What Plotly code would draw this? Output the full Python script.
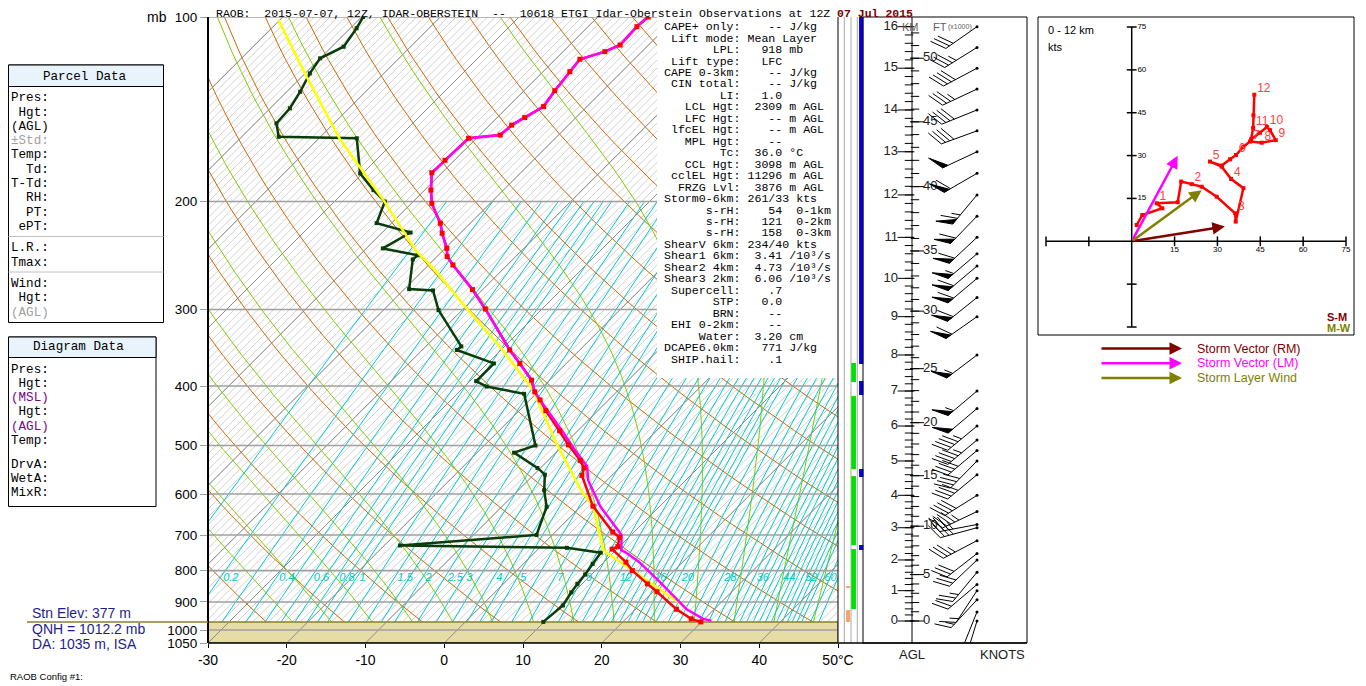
import numpy as np
import plotly.graph_objects as go

# ---------------- sounding ----------------
# temperature (hPa, deg C)
temp_p = [100, 103.7, 111.1, 113.9, 117.2, 122.8, 131.9, 140.0, 145.9, 150.1, 155.8, 157.7,
          171.3, 179.5, 191.6, 201.4, 217.0, 225.3, 238.4, 245.9, 253.8, 278.4, 299.4,
          349.3, 367.4, 391.2, 408.8, 421.4, 438.7, 473.1, 498.8, 528.9, 543.9, 559.5,
          628.0, 692.0, 705.5, 731.0, 738.0, 775.0, 800.0, 841.0, 866.0, 925.0, 959.0, 970.0]
temp_c = [-53.6, -53.8, -53.6, -54.7, -56.9, -56.6, -56.1, -55.5, -56.5, -57.2, -57.4, -61.0,
          -61.2, -61.3, -59.2, -57.4, -53.8, -52.3, -49.8, -48.7, -46.9, -41.3, -37.2,
          -28.9, -25.9, -22.3, -20.4, -18.7, -16.6, -12.3, -9.4, -5.9, -4.5, -3.8,
          1.5, 7.3, 8.8, 9.8, 9.4, 12.8, 14.7, 18.3, 20.5, 25.2, 28.3, 29.9]

# virtual temperature below 420 hPa (above that it sits on the temperature)
virt_p = [421.4, 473.1, 507.0, 540.7, 569.6, 629.0, 679.0, 699.7, 741.0, 747.6, 775.0, 832.0, 925.0, 959.0, 966.0]
virt_c = [-18.7, -12.0, -8.1, -4.3, -2.4, 2.5, 7.1, 8.8, 10.7, 11.6, 14.5, 19.4, 26.5, 29.8, 31.1]

# dew point
dewp_p = [100, 104.3, 111.8, 116.8, 123.6, 132.4, 140.9, 149.1, 156.8, 157.7, 180.0, 191.6, 200.0,
          216.9, 224.7, 238.5, 244.7, 248.6, 277.9, 279.3, 300.7, 344.6, 349.3, 367.4, 392.6,
          400.7, 411.8, 500.0, 513.7, 544.0, 557.9, 591.7, 629.4, 699.7, 728.0, 734.5, 747.8,
          780.0, 812.0, 841.0, 868.0, 912.0, 970.0]
dewp_c = [-89.8, -89.2, -88.5, -90.0, -89.4, -88.3, -87.5, -87.3, -85.3, -75.2, -70.3, -66.5, -63.6,
          -61.9, -56.4, -57.9, -52.6, -52.7, -49.4, -46.2, -43.0, -35.5, -35.6, -29.2, -29.2,
          -27.2, -21.5, -13.5, -15.3, -10.4, -8.6, -6.7, -4.3, -2.0, -18.0, 3.5, 8.4,
          8.8, 9.2, 9.4, 9.7, 10.3, 9.9]

# lifted parcel (mean layer, LPL 918 mb)
parcel_p = [918, 830, 741, 629.4, 589.7, 496.1, 429.6, 405.5, 345.3, 298.5, 256.8, 241.4, 198.8, 175.5, 158.6, 125.1, 101.1]
parcel_c = [26.1, 17.7, 8.4, 1.6, -2.2, -11.1, -18.1, -20.9, -30.5, -39.7, -49.0, -53.2, -64.0, -71.2, -77.1, -89.4, -100.2]

sfc_p = 970.0

# height scale: pressure at each km AGL
km_ticks = list(range(17))
km_p = [966.7, 862.6, 768.7, 681.0, 603.0, 530.0, 464.8, 407.5, 355.9, 308.2, 266.9, 228.8,
        195.1, 165.9, 141.8, 121.2, 103.7]
ft_ticks = list(range(0, 51, 5))

# winds: height km AGL, u/v in knots
wind_h = [0.0, 0.3, 0.7, 1.0, 1.2, 1.6, 2.0, 2.2, 2.6, 3.0, 3.1, 3.5, 4.0, 4.6, 5.0, 5.3, 5.6, 6.0, 6.5, 7.0,
          8.0, 9.0, 9.5, 10.0, 10.3, 10.6, 11.0, 11.5, 12.0, 12.5, 13.0, 13.5, 14.0, 14.5, 15.0, 15.5, 16.0]
wind_u = [1.75, 3.7, 10.7, 8.75, 16.1, 17.3, 21.0, 24.5, 29.75, 36.2, 36.4, 39.1, 34.8, 31.5, 27.4, 31.5, 34.4, 36.5, 39.1, 41.4,
          45.5, 50.4, 48.4, 47.3, 44.9, 41.8, 42.5, 42.6, 42.9, 50.2, 47.1, 37.6, 35.2, 31.7, 37.1, 29.7, 24.6]
wind_v = [5.7, 9.2, 11.55, 13.3, 13.65, 20.9, 20.0, 19.1, 15.6, 9.8, 6.9, 18.6, 21.8, 26.1, 27.9, 26.5, 28.7, 30.2, 33.1, 34.9,
          34.5, 35.4, 38.9, 40.0, 38.0, 35.7, 39.7, 44.1, 51.3, 29.0, 22.0, 13.7, 14.2, 14.8, 19.7, 18.5, 17.2]

# storm vectors (u, v kt): right mover, left mover, 0-6 km mean wind
storm_u = [32.6, 16.1, 24.5]
storm_v = [5.2, 29.9, 17.9]
storm_col = ['#800000', '#ff00ff', '#808000']
storm_names = ['Storm Vector (RM)', 'Storm Vector (LM)', 'Storm Layer Wind']

# layer bars beside the diagram (top, bottom hPa)
blue_layers = [(100, 368.2), (392.5, 413.7), (546.2, 562.9), (726.6, 740.5)]
green_layers = [(366.8, 393.9), (415.3, 546.2), (560.9, 726.6), (737.7, 924.3)]
orange_layers = [(847.6, 854.0), (928.0, 970.3)]

mixr_labels = [0.2, 0.4, 0.6, 0.8, 1, 1.5, 2, 2.5, 3, 4, 5, 7, 9, 12, 16, 20, 28, 36, 44, 52, 60]
mixr_lines = [0.1, 0.2, 0.3, 0.4, 0.5, 0.6, 0.7, 0.8, 0.9, 1, 1.25, 1.5, 1.75, 2, 2.5, 3, 3.5, 4, 4.5, 5, 6, 7, 8, 9,
              10, 11, 12, 13, 14, 15, 16, 17, 18, 19, 20, 22, 24, 26, 28, 30, 32, 34, 36, 38, 40, 42, 44, 46,
              48, 50, 52, 54, 56, 58, 60, 64, 68]
p_ticks = [100, 200, 300, 400, 500, 600, 700, 800, 900, 1000, 1050]

index_lines = [
    "CAPE+ only:    -- J/kg",
    " Lift mode: Mean Layer",
    "       LPL:   918 mb",
    " Lift type:   LFC",
    "CAPE 0-3km:    -- J/kg",
    " CIN total:    -- J/kg",
    "        LI:   1.0",
    "   LCL Hgt:  2309 m AGL",
    "   LFC Hgt:    -- m AGL",
    " lfcEL Hgt:    -- m AGL",
    "   MPL Hgt:    --",
    "        Tc:  36.0 °C",
    "   CCL Hgt:  3098 m AGL",
    " cclEL Hgt: 11296 m AGL",
    "  FRZG Lvl:  3876 m AGL",
    "Storm0-6km: 261/33 kts",
    "      s-rH:    54  0-1km",
    "      s-rH:   121  0-2km",
    "      s-rH:   158  0-3km",
    "ShearV 6km: 234/40 kts",
    "Shear1 6km:  3.41 /10³/s",
    "Shear2 4km:  4.73 /10³/s",
    "Shear3 2km:  6.06 /10³/s",
    " Supercell:    .7",
    "       STP:   0.0",
    "       BRN:    --",
    " EHI 0-2km:    --",
    "     Water:  3.20 cm",
    "DCAPE6.0km:   771 J/kg",
    " SHIP.hail:    .1",
]

W, H = 1366, 686
OFF = 8   # the page puts the figure 8 px in from the top-left corner
SANS = "Liberation Sans, Arial, sans-serif"
MONO = "Liberation Mono, Courier New, monospace"


def fx(px):
    return (px - OFF) / W


def fy(py):
    return 1 - (py - OFF) / H


# skew-T frame in screen pixels
L, R, TOP, BOT = 208, 838, 17, 643
P_TOP, P_BOT = 100.0, 1050.0
T_MIN, T_MAX = -30, 50
px_dec = (BOT - TOP) / np.log10(P_BOT / P_TOP)   # pixels per decade of pressure
px_deg = (R - L) / (T_MAX - T_MIN)               # pixels per deg C
SKEW = px_dec / px_deg                           # gives 45 degree isotherms


def skx(t, p):
    return np.asarray(t, float) + SKEW * np.log10(P_BOT / np.asarray(p, float))


def lines(xs, ys, color, width, xaxis='x', yaxis='y'):
    X, Y = [], []
    for a, b in zip(xs, ys):
        X += list(a) + [None]
        Y += list(b) + [None]
    return go.Scatter(x=X, y=Y, mode='lines', line=dict(color=color, width=width),
                      xaxis=xaxis, yaxis=yaxis, hoverinfo='skip')


def moist_lapse(t, p):
    es = 6.112 * np.exp(17.67 * (t - 273.15) / (t - 29.65))
    rs = 0.622 * es / (p - es)
    return (287.04 * t + 2.501e6 * rs) / (1005.7 + 2.501e6 ** 2 * rs * 0.622 / (287.04 * t * t)) / p


def moist_adiabat(tw):
    ps, ts = [], []
    for p_end in (P_TOP, P_BOT):
        pp = np.linspace(1000, p_end, 200)
        t = tw + 273.15
        tt = [t]
        for p0, p1 in zip(pp[:-1], pp[1:]):
            dp = p1 - p0
            k1 = moist_lapse(t, p0)
            t = t + moist_lapse(t + k1 * dp / 2, p0 + dp / 2) * dp
            tt.append(t)
        ps.append(pp)
        ts.append(np.array(tt) - 273.15)
    return np.concatenate([ps[1][::-1], ps[0][1:]]), np.concatenate([ts[1][::-1], ts[0][1:]])


def mixr_td(w, p):
    e = w * np.asarray(p, float) / (622.0 + w)
    a = np.log(e / 6.112)
    return 243.5 * a / (17.67 - a)


fig = go.Figure()

# background: 1 deg isotherm hatching, dry/moist adiabats, mixing ratio
iso_all = np.arange(-100, 51)
fig.add_trace(lines([skx([t, t], [P_BOT, P_TOP]) for t in iso_all], [[P_BOT, P_TOP]] * len(iso_all), '#c4c4c4', 0.8))

pg = np.logspace(np.log10(P_TOP), np.log10(P_BOT), 60)
thetas = np.arange(200, 501, 10)
fig.add_trace(lines([skx(th * (pg / 1000) ** 0.2857 - 273.15, pg) for th in thetas], [pg] * len(thetas), '#cc6a00', 1))

moist = [moist_adiabat(tw) for tw in range(-20, 46, 5)]
fig.add_trace(lines([skx(t, p) for p, t in moist], [p for p, t in moist], '#80cc00', 1))

pm = np.logspace(np.log10(200), np.log10(P_BOT), 40)
fig.add_trace(lines([skx(mixr_td(w, pm), pm) for w in mixr_lines], [pm] * len(mixr_lines), '#00cccc', 1))

# below-ground area
fig.add_trace(go.Scatter(x=[T_MIN, T_MAX, T_MAX, T_MIN, T_MIN], y=[sfc_p, sfc_p, P_BOT, P_BOT, sfc_p],
                         fill='toself', fillcolor='#e6dca6', mode='lines', line=dict(color='#8c7f2e', width=1.5),
                         hoverinfo='skip'))

iso10 = np.arange(-100, 51, 10)
fig.add_trace(lines([skx([t, t], [P_BOT, P_TOP]) for t in iso10], [[P_BOT, P_TOP]] * len(iso10), '#8a8a8a', 1))
fig.add_trace(lines([[T_MIN, T_MAX]] * len(p_ticks), [[p, p] for p in p_ticks], '#a0a0a0', 1.6))

p_lab = 822
fig.add_trace(go.Scatter(x=skx(mixr_td(np.array(mixr_labels, float), p_lab), p_lab) + 0.4, y=[p_lab] * len(mixr_labels),
                         mode='text', text=['<i>%g</i>' % w for w in mixr_labels], textposition='middle right',
                         textfont=dict(family=SANS, size=11, color='#00c8c8'), hoverinfo='skip'))

# profiles
fig.add_trace(go.Scatter(x=skx(dewp_c, dewp_p), y=dewp_p, mode='lines+markers',
                         line=dict(color='#0a3c0a', width=2.5), marker=dict(symbol='square', size=4, color='#0a3c0a'),
                         hoverinfo='skip'))
fig.add_trace(go.Scatter(x=skx(parcel_c, parcel_p), y=parcel_p, mode='lines',
                         line=dict(color='#ffff00', width=2.5), hoverinfo='skip'))
fig.add_trace(go.Scatter(x=skx(temp_c, temp_p), y=temp_p, mode='lines',
                         line=dict(color='#ff0000', width=2.5), hoverinfo='skip'))
upper = [i for i, p in enumerate(temp_p) if p < virt_p[0]]
mag_p = [temp_p[i] for i in upper] + virt_p
mag_c = [temp_c[i] for i in upper] + virt_c
fig.add_trace(go.Scatter(x=skx(mag_c, mag_p), y=mag_p, mode='lines',
                         line=dict(color='#ff00ff', width=2.5), hoverinfo='skip'))
fig.add_trace(go.Scatter(x=skx(temp_c, temp_p), y=temp_p, mode='markers',
                         marker=dict(symbol='square', size=5, color='#ff0000'), hoverinfo='skip'))

# ---------------- side columns and wind barbs (x2 in pixel units) ----------------
for xc in (844.3, 851, 857.3):
    fig.add_trace(lines([[xc, xc]], [[P_TOP, P_BOT]], '#a8a8a8', 1, xaxis='x2'))
for layers, xc, col, wd in ((green_layers, 853.6, '#00e000', 4.7), (blue_layers, 861.2, '#0000f0', 4.3),
                            (orange_layers, 848.0, '#f4a46c', 4)):
    fig.add_trace(lines([[xc, xc]] * len(layers), [list(l) for l in layers], col, wd, xaxis='x2'))


def h2p(h):
    return 10 ** np.interp(h, km_ticks, np.log10(km_p))


# height axis
fig.add_trace(lines([[912, 912]], [[P_TOP, P_BOT]], 'black', 1, xaxis='x2'))
km_minor = h2p(np.arange(0, 16.01, 0.2))
ft_minor = h2p(np.arange(0, 53) * 0.3048)
for xs, ps, size in ((906, km_p, 12), (909, km_minor, 6), (917, h2p(np.array(ft_ticks) * 0.3048), 10), (915, ft_minor, 6)):
    fig.add_trace(go.Scatter(x=[xs] * len(ps), y=ps, mode='markers', xaxis='x2',
                             marker=dict(symbol='line-ew', size=size, line=dict(color='black', width=1)),
                             hoverinfo='skip'))
fig.add_trace(go.Scatter(x=[898] * len(km_ticks), y=km_p, mode='text', text=[str(k) for k in km_ticks], xaxis='x2',
                         textposition='middle left', textfont=dict(family=SANS, size=13, color='#202020'),
                         hoverinfo='skip', cliponaxis=False))
fig.add_trace(go.Scatter(x=[923] * len(ft_ticks), y=h2p(np.array(ft_ticks) * 0.3048), mode='text',
                         text=[str(k) for k in ft_ticks], xaxis='x2', textposition='middle right',
                         textfont=dict(family=SANS, size=13, color='#202020'), hoverinfo='skip', cliponaxis=False))

# barbs: base at x=977, staff toward the wind source
bx, by, fxs, fys = [], [], [], []
rot = np.radians(-60)
for h, u, v in zip(wind_h, wind_u, wind_v):
    p0 = h2p(h)
    spd = np.hypot(u, v)
    sx, sy = -u / spd, -v / spd
    qx, qy = sx * np.cos(rot) - sy * np.sin(rot), sx * np.sin(rot) + sy * np.cos(rot)

    def pt(d, f=0.0):
        xm, ym = sx * d + qx * f, sy * d + qy * f
        return 977 + xm, p0 * 10 ** (-ym / px_dec)

    staff = 38.0
    for a in (pt(0), pt(staff)):
        bx.append(a[0]); by.append(a[1])
    bx.append(None); by.append(None)
    s5 = int(5 * round(spd / 5))
    n50, n10, n5 = s5 // 50, (s5 % 50) // 10, (s5 % 10) // 5
    pos = staff
    for _ in range(n50):
        for a in (pt(pos), pt(pos, 17), pt(pos - 6), pt(pos)):
            fxs.append(a[0]); fys.append(a[1])
        fxs.append(None); fys.append(None)
        pos -= 7.5
    for _ in range(n10):
        for a in (pt(pos), pt(pos, 17)):
            bx.append(a[0]); by.append(a[1])
        bx.append(None); by.append(None)
        pos -= 4.5
    if n5:
        if pos == staff:
            pos -= 4.5
        for a in (pt(pos), pt(pos, 9)):
            bx.append(a[0]); by.append(a[1])
        bx.append(None); by.append(None)
fig.add_trace(go.Scatter(x=bx, y=by, mode='lines', xaxis='x2', line=dict(color='black', width=1), hoverinfo='skip'))
fig.add_trace(go.Scatter(x=fxs, y=fys, mode='lines', xaxis='x2', fill='toself', fillcolor='black',
                         line=dict(color='black', width=1), hoverinfo='skip'))
fig.add_trace(go.Scatter(x=[977] * len(wind_h), y=h2p(np.array(wind_h)), mode='markers', xaxis='x2',
                         marker=dict(size=3, color='black'), hoverinfo='skip'))

# ---------------- hodograph ----------------
hod = [i for i, h in enumerate(wind_h) if h <= 12]
hu = [wind_u[i] for i in hod]
hv = [wind_v[i] for i in hod]
tk = [-30, -15, 15, 30, 45, 60, 75]
fig.add_trace(go.Scatter(x=[-30, 75, None, 0, 0], y=[0, 0, None, -30, 75], mode='lines', xaxis='x3', yaxis='y5',
                         line=dict(color='black', width=1.5), hoverinfo='skip'))
fig.add_trace(go.Scatter(x=tk, y=[0] * len(tk), mode='markers', xaxis='x3', yaxis='y5', hoverinfo='skip',
                         cliponaxis=False,
                         marker=dict(symbol='line-ns', size=7, line=dict(color='black', width=1.5))))
fig.add_trace(go.Scatter(x=[0] * len(tk), y=tk, mode='markers', xaxis='x3', yaxis='y5', hoverinfo='skip',
                         cliponaxis=False,
                         marker=dict(symbol='line-ew', size=7, line=dict(color='black', width=1.5))))
fig.add_trace(go.Scatter(x=tk[2:], y=[-1.5] * 5, mode='text', text=[str(t) for t in tk[2:]], xaxis='x3', yaxis='y5',
                         textposition='bottom center', textfont=dict(family=SANS, size=8, color='black'),
                         hoverinfo='skip', cliponaxis=False))
fig.add_trace(go.Scatter(x=[2] * 5, y=tk[2:], mode='text', text=[str(t) for t in tk[2:]], xaxis='x3', yaxis='y5',
                         textposition='middle right', textfont=dict(family=SANS, size=8, color='black'),
                         hoverinfo='skip', cliponaxis=False))
fig.add_trace(go.Scatter(x=hu, y=hv, mode='lines+markers', xaxis='x3', yaxis='y5',
                         line=dict(color='#ff0000', width=2.5), marker=dict(symbol='square', size=4, color='#ff0000'),
                         hoverinfo='skip'))
km_pts = [i for i in hod if float(wind_h[i]).is_integer() and wind_h[i] > 0]
fig.add_trace(go.Scatter(x=[wind_u[i] + 1 for i in km_pts], y=[wind_v[i] for i in km_pts], mode='text',
                         text=['%d' % wind_h[i] for i in km_pts], textposition='top right', xaxis='x3', yaxis='y5',
                         textfont=dict(family=SANS, size=12, color='#ff4040'), hoverinfo='skip'))

annotations = []


def note(px, py, text, size=12, color='black', family=MONO, xanchor='left', yanchor='middle'):
    annotations.append(dict(x=fx(px), y=fy(py), xref='paper', yref='paper', text=text, showarrow=False,
                            xanchor=xanchor, yanchor=yanchor, font=dict(family=family, size=size, color=color)))


for su, sv, col in zip(storm_u, storm_v, storm_col):
    annotations.append(dict(x=su, y=sv, ax=0, ay=0, xref='x3', yref='y5', axref='x3', ayref='y5', text='',
                            showarrow=True, arrowhead=2, arrowsize=1, arrowwidth=2.5, arrowcolor=col))

# legend under the hodograph
for k, (name, col) in enumerate(zip(storm_names, storm_col)):
    yy = 348.5 + 14.7 * k
    annotations.append(dict(x=fx(1182), y=fy(yy), xref='paper', yref='paper', ax=-82, ay=0, text='',
                            showarrow=True, arrowhead=2, arrowsize=1, arrowwidth=2.5, arrowcolor=col))
    note(1195, yy, name, 12.5, col, SANS)

note(1046, 30, '0 - 12 km', 11, 'black', SANS)
note(1046, 47.5, 'kts', 11, 'black', SANS)
note(1349, 316.5, '<b>S-M</b>', 11, '#800000', SANS, xanchor='right')
note(1353, 328, '<b>M-W</b>', 11, '#808000', SANS, xanchor='right')

# title (kept just inside the visible page area)
title = "RAOB:  2015-07-07, 12Z, IDAR-OBERSTEIN  --  10618 ETGI Idar-Oberstein Observations at 12Z "
note(214, 13, title.replace(' ', '\u00a0') + "<b><span style='color:#7a0000'>07\u00a0Jul\u00a02015</span></b>", 11.5)

# index text block
for k, s in enumerate(index_lines):
    note(662, 26.7 + 11.46 * k, s.replace(' ', '\u00a0'), 11.6)

# parcel / diagram data panels
parcel_rows = [("Pres:", 98.3, 'black'), (" Hgt:", 112.5, 'black'), ("(AGL)", 126.7, 'black'),
               ("±Std:", 141, '#a0a0a0'), ("Temp:", 155.3, 'black'), ("  Td:", 170, 'black'),
               ("T-Td:", 184.3, 'black'), ("  RH:", 198.3, 'black'), ("  PT:", 212.7, 'black'),
               (" ePT:", 226.7, 'black'), ("L.R.:", 248.3, 'black'), ("Tmax:", 262.7, 'black'),
               ("Wind:", 284, 'black'), (" Hgt:", 298.3, 'black'), ("(AGL)", 313, '#a0a0a0')]
diagram_rows = [("Pres:", 370, 'black'), (" Hgt:", 384, 'black'), ("(MSL)", 398.3, '#800080'),
                (" Hgt:", 412.3, 'black'), ("(AGL)", 426.7, '#800080'), ("Temp:", 441, 'black'),
                ("DrvA:", 465, 'black'), ("WetA:", 479.3, 'black'), ("MixR:", 493.3, 'black')]
for s, yy, col in parcel_rows + diagram_rows:
    note(9, yy, s.replace(' ', '\u00a0'), 12.6, col)
note(85, 76.5, 'Parcel\u00a0Data', 12.6, 'black', xanchor='center')
note(78, 347.3, 'Diagram\u00a0Data', 12.6, 'black', xanchor='center')

# station info
note(30, 612.5, 'Stn Elev: 377 m', 14, '#1e1e8c', SANS)
note(30, 629.3, 'QNH = 1012.2 mb', 14, '#1e1e8c', SANS)
note(30, 643.5, 'DA: 1035 m, ISA', 14, '#1e1e8c', SANS)
note(8, 676, 'RAOB Config #1:', 9.5, 'black', SANS)

# axis words
note(169, 17, 'mb', 14, 'black', SANS, xanchor='right')
note(912, 654, 'AGL', 13, '#202020', SANS, xanchor='center')
note(1027, 654, 'KNOTS', 13, '#202020', SANS, xanchor='right')
note(900, 27.5, 'KM', 11, '#606060', SANS)
note(931, 26.5, 'FT', 11, '#606060', SANS)
note(946, 27, '(x1000)', 7, '#606060', SANS)

y_sfc = TOP + px_dec * np.log10(sfc_p / P_TOP)


def rect(x0, y0, x1, y1, fill=None, color='black', width=1, layer='above'):
    return dict(type='rect', xref='paper', yref='paper', x0=fx(x0), x1=fx(x1), y0=fy(y1), y1=fy(y0),
                fillcolor=fill, line=dict(color=color, width=width), layer=layer)


def hline(x0, x1, y, color='black', width=1):
    return dict(type='line', xref='paper', yref='paper', x0=fx(x0), x1=fx(x1), y0=fy(y), y1=fy(y),
                line=dict(color=color, width=width), layer='above')


def vline(x, y0, y1, color='black', width=1):
    return dict(type='line', xref='paper', yref='paper', x0=fx(x), x1=fx(x), y0=fy(y0), y1=fy(y1),
                line=dict(color=color, width=width), layer='above')


BOX_L = OFF + 0.5   # left panel edge (the page margin hides anything further left)
shapes = [
    rect(657, TOP, R, 378, fill='white', width=0),
    vline(L, TOP, BOT, 'black', 2),
    vline(R, TOP, BOT, 'black', 1),
    hline(L, 1027, BOT, 'black', 1.5),
    rect(863, TOP, 1027, BOT),
    hline(27, L, y_sfc, '#8c7f2e', 1.5),
    rect(1038, 17, 1354, 335),
    rect(BOX_L, 65, 163.5, 322.5, fill='white'),
    rect(BOX_L, 65, 163.5, 86.5, fill='#e8f3fb'),
    hline(BOX_L, 163.5, 236.5, '#c0c0c0', 1),
    hline(BOX_L, 163.5, 272, '#c0c0c0', 1),
    rect(BOX_L, 337, 156, 506.5, fill='white'),
    rect(BOX_L, 337, 156, 357.5, fill='#e8f3fb'),
]

fig.update_layout(
    width=W, height=H, margin=dict(l=0, r=0, t=0, b=0, pad=0, autoexpand=False),
    paper_bgcolor='white', plot_bgcolor='white', showlegend=False,
    xaxis=dict(domain=[fx(L), fx(R)], range=[T_MIN, T_MAX], tickvals=list(range(-30, 51, 10)),
               ticktext=[str(t) for t in range(-30, 41, 10)] + ['50°C'], ticks='outside', ticklen=4,
               tickcolor='black', tickfont=dict(family=SANS, size=14, color='black'),
               showgrid=False, zeroline=False, anchor='y', automargin=False),
    yaxis=dict(domain=[fy(BOT), fy(TOP)], type='log', range=[np.log10(P_BOT), np.log10(P_TOP)],
               tickvals=p_ticks, ticktext=[str(p) for p in p_ticks], ticks='outside', ticklen=7,
               tickcolor='#a0a0a0', tickfont=dict(family=SANS, size=13.5, color='black'),
               showgrid=False, zeroline=False, anchor='x', automargin=False),
    xaxis2=dict(domain=[fx(R), fx(1027)], range=[R, 1027], visible=False, anchor='y', automargin=False),
    xaxis3=dict(domain=[fx(1046), fx(1346)], range=[-30, 75], visible=False, anchor='y5', automargin=False),
    yaxis5=dict(domain=[fy(327), fy(27)], range=[-30, 75], visible=False, anchor='x3', automargin=False),
    annotations=annotations,
    shapes=shapes,
)

fig.write_html("out.html")
